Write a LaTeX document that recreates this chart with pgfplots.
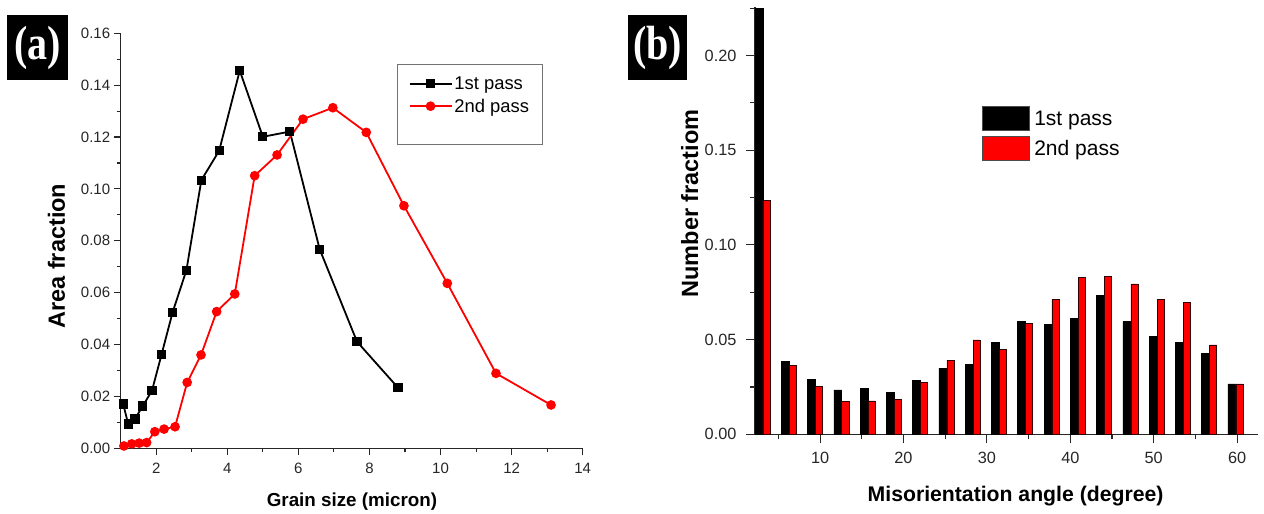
\documentclass[border=0pt]{standalone}
\usepackage{fontspec}
\setmainfont{Liberation Sans}
\newfontfamily\serifbold{Liberation Serif}
\usepackage{pgfplots}
\pgfplotsset{compat=1.18}
\begin{document}
\begin{tikzpicture}
\useasboundingbox (0pt,0pt) rectangle (1264pt,514pt);
% panel tags
\fill[black] (7pt,434pt) rectangle (67.7pt,499pt);
\node[text=white, font=\serifbold\bfseries\fontsize{40}{40}\selectfont, yscale=1.2] at (37.4pt,466.5pt) {(a)};
\fill[black] (628.3pt,434pt) rectangle (687.3pt,499pt);
\node[text=white, font=\serifbold\bfseries\fontsize{40}{40}\selectfont, yscale=1.2] at (657.8pt,466.5pt) {(b)};

\pgfplotsset{
  origin/.style={
    scale only axis, anchor=south west, clip=false,
    axis x line*=bottom, axis y line*=left,
    axis line style={-, line width=1.5pt, black!85},
    tick align=outside,
    major tick length=7pt, minor tick length=4pt,
    every tick/.style={black!85, line width=1.1pt},
    /pgf/number format/assume math mode=true,
    scaled y ticks=false,
    yticklabel style={/pgf/number format/fixed, /pgf/number format/fixed zerofill, /pgf/number format/precision=2},
  }
}

\begin{axis}[origin,
  at={(120.7pt,65.7pt)}, width=462pt, height=415pt,
  xmin=1, xmax=14, ymin=0, ymax=0.16,
  xtick={2,4,6,8,10,12,14}, minor x tick num=1,
  ytick={0,0.02,0.04,0.06,0.08,0.10,0.12,0.14,0.16}, minor y tick num=1,
  tick label style={font=\fontsize{15}{15}\selectfont, text=black!85},
  xticklabel style={yshift=-4pt},
  xlabel={Grain size (micron)},
  ylabel={Area fraction},
  xlabel style={at={(axis description cs:0.5006,-0.1414)}, anchor=base, font=\bfseries\fontsize{18.8}{20}\selectfont},
  ylabel style={at={(axis description cs:-0.1206,0.463)}, anchor=base, font=\bfseries\fontsize{23.5}{25}\selectfont},
  legend style={at={(0.599,0.925)}, anchor=north west, draw=black!55,
    font=\fontsize{18.4}{20}\selectfont, inner xsep=11pt, inner ysep=10pt, row sep=4pt},
  legend cell align=left,
  legend image code/.code={\draw[mark repeat=2,mark phase=2,#1] plot coordinates {(0pt,0pt)(21pt,0pt)(42pt,0pt)};},
]
\addplot[black, line width=1.8pt, mark=square*, mark size=3.7pt] coordinates {
(1.07,0.0171)(1.21,0.0094)(1.40,0.0113)(1.62,0.0163)(1.88,0.0222)(2.15,0.0362)
(2.46,0.0524)(2.85,0.0687)(3.27,0.1034)(3.77,0.1147)(4.35,0.1456)(5.00,0.1201)
(5.76,0.1221)(6.60,0.0767)(7.65,0.0411)(8.80,0.0234)};
\addlegendentry{1st pass}
\addplot[red, line width=1.8pt, mark=*, mark size=3.9pt] coordinates {
(1.09,0.0009)(1.31,0.0017)(1.52,0.0020)(1.73,0.0022)(1.96,0.0064)(2.22,0.0074)
(2.53,0.0083)(2.87,0.0254)(3.26,0.0360)(3.70,0.0527)(4.21,0.0595)(4.77,0.1051)
(5.40,0.1131)(6.13,0.1269)(6.97,0.1313)(7.91,0.1218)(8.97,0.0935)(10.19,0.0636)
(11.56,0.0289)(13.11,0.0167)};
\addlegendentry{2nd pass}
\addlegendimage{empty legend}
\addlegendentry{\rule{0pt}{9pt}}
\end{axis}

\begin{axis}[origin,
  at={(755pt,79.7pt)}, width=503pt, height=427.6pt,
  xmin=2.2, xmax=62.5, ymin=0, ymax=0.2258,
  xtick={10,20,30,40,50,60}, minor xtick={5,15,25,35,45,55},
  ytick={0,0.05,0.10,0.15,0.20}, minor ytick={0.025,0.075,0.125,0.175,0.225},
  major tick length=9pt, minor tick length=5pt,
  tick label style={font=\fontsize{16.3}{17}\selectfont, text=black!85},
  xticklabel style={yshift=-5pt},
  yticklabel style={xshift=-6pt},
  xlabel={Misorientation angle (degree)},
  ylabel={Number fractiom},
  xlabel style={at={(axis description cs:0.518,-0.1576)}, anchor=base, font=\bfseries\fontsize{21.2}{22}\selectfont},
  ylabel style={at={(axis description cs:-0.1133,0.5398)}, anchor=base, font=\bfseries\fontsize{23.5}{25}\selectfont},
  legend style={at={(0.4507,0.7678)}, anchor=north west, draw=none, fill=none,
    font=\fontsize{21}{23}\selectfont, inner sep=0pt, row sep=5pt},
  legend cell align=left,
]
\addplot[ybar, bar width=0.95, bar shift=-0.475, fill=black, draw=black, line width=0.6pt,
  legend image code/.code={\draw[fill=black,draw=black!70,line width=0.8pt] (0pt,-11.5pt) rectangle (46.6pt,12.5pt);}] coordinates {
(3.15,0.225)(6.30,0.0387)(9.45,0.029)(12.60,0.0234)(15.75,0.0243)(18.90,0.022)
(22.05,0.0283)(25.20,0.0348)(28.35,0.0371)(31.50,0.0484)(34.65,0.0598)(37.80,0.0582)
(40.95,0.0612)(44.10,0.0732)(47.25,0.0595)(50.40,0.0519)(53.55,0.0487)(56.70,0.0428)
(59.85,0.0266)};
\addlegendentry{\hspace{3pt}1st pass}
\addplot[ybar, bar width=0.85, bar shift=0.425, fill=red, draw=black!80!red, line width=0.6pt,
  legend image code/.code={\draw[fill=red,draw=black!70,line width=0.8pt] (0pt,-11.5pt) rectangle (46.6pt,12.5pt);}] coordinates {
(3.15,0.1237)(6.30,0.0362)(9.45,0.0251)(12.60,0.0172)(15.75,0.0176)(18.90,0.0186)
(22.05,0.0275)(25.20,0.0392)(28.35,0.0498)(31.50,0.045)(34.65,0.0586)(37.80,0.0713)
(40.95,0.0829)(44.10,0.0832)(47.25,0.0794)(50.40,0.0714)(53.55,0.0697)(56.70,0.0472)
(59.85,0.0266)};
\addlegendentry{\hspace{3pt}2nd pass}
\end{axis}
\end{tikzpicture}
\end{document}
